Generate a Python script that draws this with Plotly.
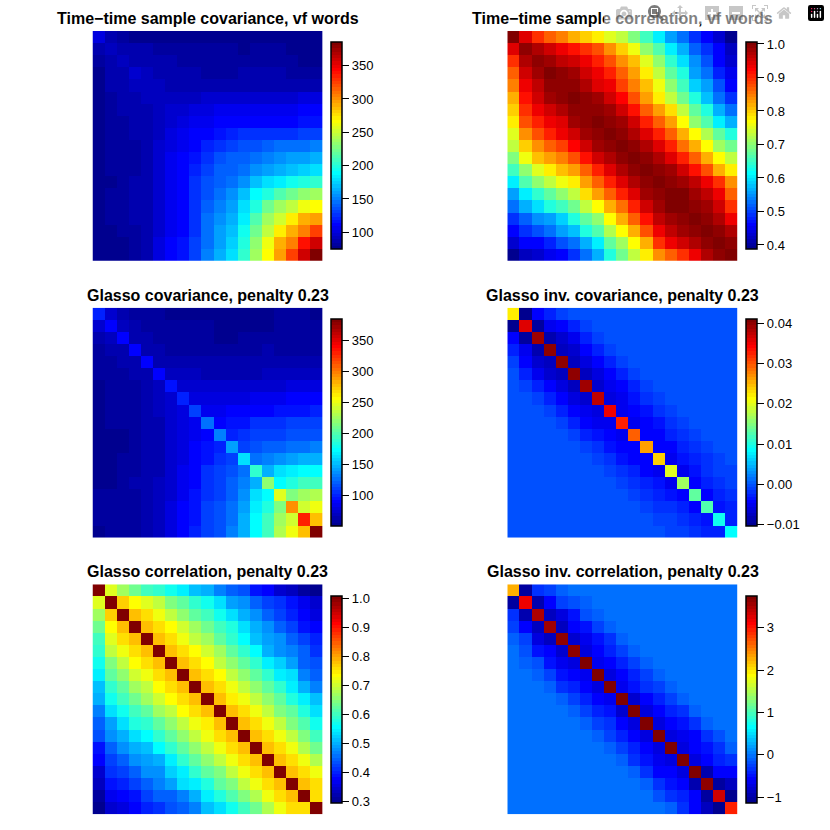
import numpy as np
import plotly.graph_objects as go

titles = ["Time\u2212time sample covariance, vf words", "Time\u2212time sample correlation, vf words",
          "Glasso covariance, penalty 0.23", "Glasso inv. covariance, penalty 0.23",
          "Glasso correlation, penalty 0.23", "Glasso inv. correlation, penalty 0.23"]

sample_cov = [
 [101,88,84,79,79,78,78,78,78,78,78,78,78,78,78,78,78,78,78],
 [92,88,86,85,84,82,82,82,81,80,80,79,80,80,80,78,79,78],
 [92,88,86,85,85,83,83,80,80,82,84,84,82,80,80,79,78],
 [94,90,88,86,85,85,84,84,84,85,85,85,85,84,81,80],
 [92,90,88,88,87,87,87,87,88,88,88,88,87,85,85],
 [92,92,92,93,95,96,96,96,97,98,98,98,100,100],
 [95,98,100,103,104,105,106,107,108,108,108,110,110],
 [102,104,108,110,112,113,112,112,113,113,115,116],
 [111,111,116,121,126,126,126,126,126,130,130],
 [121,126,130,135,135,140,145,145,145,150],
 [135,140,140,145,150,155,159,159,164],
 [140,145,155,159,164,169,174,179],
 [155,169,179,184,193,198,203],
 [189,198,213,222,232,237],
 [222,237,247,261,266],
 [252,271,290,295],
 [290,305,324],
 [339,358],
 [382],
]
sample_cor = [
 [1.0,.942,.895,.865,.846,.816,.798,.778,.75,.73,.691,.653,.604,.556,.527,.488,.46,.43,.392],
 [.99,.97,.955,.93,.915,.89,.87,.84,.80,.755,.70,.66,.605,.57,.52,.49,.46,.425],
 [.995,.985,.965,.95,.935,.90,.875,.84,.805,.745,.70,.645,.595,.545,.505,.46,.43],
 [1.0,.99,.98,.95,.93,.905,.865,.825,.78,.73,.67,.63,.555,.525,.48,.445],
 [.995,.99,.975,.945,.93,.885,.845,.805,.76,.70,.655,.585,.555,.51,.46],
 [1.0,.99,.98,.95,.923,.875,.825,.78,.73,.68,.63,.575,.53,.49],
 [.995,.99,.98,.95,.915,.865,.825,.785,.73,.67,.63,.57,.53],
 [1.0,.99,.98,.95,.905,.865,.825,.77,.70,.66,.605,.57],
 [1.0,.99,.97,.94,.905,.865,.815,.77,.72,.67,.63],
 [1.0,.99,.97,.94,.905,.855,.815,.77,.71,.68],
 [1.0,.995,.97,.94,.905,.865,.815,.77,.73],
 [1.0,.99,.98,.95,.915,.875,.815,.78],
 [1.0,.99,.98,.96,.93,.895,.835],
 [1.0,1.0,.98,.96,.93,.865],
 [1.0,.99,.98,.95,.895],
 [1.0,.99,.97,.93],
 [1.0,.99,.97],
 [1.0,.995],
 [1.0],
]
glasso_cov = [
 [100,74,65,58,58,57,55,54,54,54,54,53,53,54,54,56,56,56,54],
 [90,68,62,60,58,57,56,56,56,55,55,54,55,55,56,58,58,57],
 [90,65,62,60,58,58,57,57,54,54,57,58,58,58,58,58,58],
 [90,66,63,60,60,60,60,59,58,58,60,62,60,60,60,60],
 [90,66,64,63,63,63,63,63,63,63,63,63,65,65,65],
 [92,69,67,67,66,65,66,66,66,68,68,68,70,70],
 [95,72,72,72,72,72,74,74,74,76,78,79,80],
 [100,78,78,80,80,80,82,82,85,90,90,90],
 [111,84,84,88,90,90,90,95,95,95,100],
 [126,90,95,97,105,105,105,110,110,108],
 [131,100,105,111,111,111,116,116,116],
 [142,111,116,121,121,126,126,131],
 [163,126,131,137,142,147,147],
 [189,147,163,168,173,173],
 [220,173,184,194,194],
 [247,215,226,231],
 [294,241,252],
 [330,278],
 [382],
]
glasso_inv_cov = [
 [.022,-.010,-.0044,-.003,-.0012,0,0,0,0,0,0,0,0,0,0,0,0,0,0],
 [.036,-.0092,-.005,-.0044,-.003,-.0012,0,0,0,0,0,0,0,0,0,0,0,0],
 [.039,-.0085,-.0068,-.0048,-.003,-.0012,0,0,0,0,0,0,0,0,0,0,0],
 [.040,-.0075,-.0068,-.0044,-.003,-.0012,0,0,0,0,0,0,0,0,0,0],
 [.040,-.0075,-.006,-.0044,-.003,-.0012,0,0,0,0,0,0,0,0,0],
 [.040,-.0075,-.006,-.0044,-.003,-.0012,0,0,0,0,0,0,0,0],
 [.039,-.0068,-.0052,-.0044,-.003,-.0012,0,0,0,0,0,0,0],
 [.0375,-.006,-.0052,-.0036,-.002,-.0012,0,0,0,0,0,0],
 [.035,-.0052,-.0044,-.0036,-.002,-.0012,0,0,0,0,0],
 [.033,-.005,-.0044,-.0036,-.002,-.0012,0,0,0,0],
 [.0295,-.0044,-.0044,-.003,-.002,-.0012,0,0,0],
 [.026,-.0044,-.0044,-.003,-.002,-.0012,-.0006,0],
 [.0235,-.005,-.0036,-.003,-.002,-.0012,-.0006],
 [.020,-.005,-.0036,-.002,-.0012,-.0008],
 [.0165,-.0044,-.003,-.002,-.0012],
 [.0135,-.0044,-.003,-.002],
 [.0125,-.0036,-.003],
 [.0095,-.003],
 [.0085],
]
glasso_cor = [
 [1.0,.715,.668,.635,.60,.59,.57,.545,.51,.50,.467,.445,.434,.39,.378,.345,.333,.31,.30],
 [1.0,.768,.735,.712,.69,.646,.625,.59,.567,.535,.49,.478,.445,.42,.41,.39,.367,.345],
 [1.0,.78,.757,.725,.69,.66,.625,.60,.57,.535,.50,.478,.445,.42,.40,.378,.356],
 [1.0,.78,.757,.735,.70,.67,.635,.60,.575,.535,.50,.478,.445,.42,.39,.378],
 [1.0,.78,.755,.72,.69,.665,.625,.59,.556,.51,.49,.478,.445,.42,.40],
 [1.0,.78,.755,.73,.70,.665,.625,.59,.556,.505,.48,.47,.44,.41],
 [1.0,.78,.755,.73,.69,.66,.62,.585,.55,.52,.49,.445,.43],
 [1.0,.78,.755,.735,.695,.66,.625,.585,.55,.53,.47,.445],
 [1.0,.78,.755,.72,.69,.655,.62,.585,.55,.50,.467],
 [1.0,.78,.75,.72,.69,.66,.62,.58,.54,.51],
 [1.0,.78,.755,.72,.69,.65,.62,.575,.535],
 [1.0,.78,.755,.72,.69,.65,.61,.565],
 [1.0,.78,.755,.72,.69,.645,.60],
 [1.0,.78,.755,.72,.68,.635],
 [1.0,.78,.755,.72,.675],
 [1.0,.78,.755,.725],
 [1.0,.78,.755],
 [1.0,.76],
 [1.0],
]
glasso_inv_cor = [
 [2.27,-1.0,-.33,-.25,-.1,0,0,0,0,0,0,0,0,0,0,0,0,0,0],
 [3.15,-.95,-.56,-.25,-.18,-.1,0,0,0,0,0,0,0,0,0,0,0,0],
 [3.5,-.85,-.7,-.485,-.18,-.1,0,0,0,0,0,0,0,0,0,0,0],
 [3.6,-.85,-.56,-.485,-.25,-.1,0,0,0,0,0,0,0,0,0,0],
 [3.65,-.8,-.6,-.485,-.33,-.1,0,0,0,0,0,0,0,0,0],
 [3.65,-.7,-.56,-.41,-.25,-.1,0,0,0,0,0,0,0,0],
 [3.7,-.6,-.56,-.41,-.25,-.1,0,0,0,0,0,0,0],
 [3.7,-.7,-.56,-.41,-.25,-.1,0,0,0,0,0,0],
 [3.7,-.6,-.485,-.33,-.25,-.1,0,0,0,0,0],
 [3.7,-.8,-.56,-.41,-.25,-.1,0,0,0,0],
 [3.7,-.7,-.56,-.41,-.33,-.1,0,0,0],
 [3.7,-.7,-.56,-.485,-.33,-.1,0,0],
 [3.7,-.7,-.6,-.56,-.33,-.18,0],
 [3.7,-.7,-.56,-.485,-.33,-.1],
 [3.7,-.7,-.56,-.41,-.33],
 [3.7,-.95,-.56,-.56],
 [3.65,-1.0,-.85],
 [3.35,-1.1],
 [2.95],
]
matrices = [sample_cov, sample_cor, glasso_cov, glasso_inv_cov, glasso_cor, glasso_inv_cor]
z_ranges = [(74.5,385),(.387,1.005),(50.4,385),(-.0104,.0411),(.2943,1.008),(-1.134,3.756)]
tick_vals = [[100,150,200,250,300,350],[.4,.5,.6,.7,.8,.9,1.0],[100,150,200,250,300,350],
             [-.01,0,.01,.02,.03,.04],[.3,.4,.5,.6,.7,.8,.9,1.0],[-1,0,1,2,3]]
tick_text = [["100","150","200","250","300","350"],["0.4","0.5","0.6","0.7","0.8","0.9","1.0"],
             ["100","150","200","250","300","350"],["\u22120.01","0.00","0.01","0.02","0.03","0.04"],
             ["0.3","0.4","0.5","0.6","0.7","0.8","0.9","1.0"],["\u22121","0","1","2","3"]]

def hexc(r,g,b): return f"#{r:02X}{g:02X}{b:02X}"
pal = [hexc(0,0,v) for v in range(0x8F,0x100,0x10)]
pal += [hexc(0,v,255) for v in list(range(0x10,0x100,0x10))+[0xFF]]
pal += [hexc(v,255,255-v) for v in list(range(0x10,0x100,0x10))+[0xFF]]
pal += [hexc(255,v,0) for v in list(range(0xEF,0,-0x10))[:15]+[0]]
pal += [hexc(v,0,0) for v in [0xEF,0xDF,0xCF,0xBF,0xAF,0x9F,0x8F,0x80]]
n = len(pal)
cs = []
for i,c in enumerate(pal):
    cs += [[i/n,c],[(i+1)/n,c]]

W = 830.0
col_x = [(92.5,322.7),(507.3,737.7)]
cb_x = [331.0,746.0]
row_y = [(31,260.7),(307.7,537.7),(584.3,814.3)]
cb_y = [(42.3,249.3),(319,526),(595.7,802.7)]
title_y = [18,295,571]

fig = go.Figure()
anns = []
for k,(tri,zr) in enumerate(zip(matrices,z_ranges)):
    r,c = divmod(k,2)
    N = len(tri)
    Z = np.zeros((N,N))
    for i,row in enumerate(tri):
        Z[i,i:] = row
        Z[i:,i] = row
    ax = "" if k==0 else str(k+1)
    fig.add_trace(go.Heatmap(z=Z, zmin=zr[0], zmax=zr[1], colorscale=cs, zsmooth=False, hoverinfo="skip",
        xaxis="x"+ax, yaxis="y"+ax,
        colorbar=dict(x=cb_x[c]/W, xanchor="left", xpad=0, ypad=0,
            y=1-cb_y[r][0]/W, yanchor="top", len=cb_y[r][1]-cb_y[r][0], lenmode="pixels",
            thickness=11.3, thicknessmode="pixels", outlinecolor="#000", outlinewidth=1.5, borderwidth=0,
            tickmode="array", tickvals=tick_vals[k], ticktext=tick_text[k], ticks="outside", ticklen=7,
            tickwidth=1, tickcolor="#000", tickfont=dict(family="Liberation Sans",size=13,color="#000"))))
    fig.update_layout({
        "xaxis"+ax: dict(domain=[col_x[c][0]/W,col_x[c][1]/W], visible=False, range=[-.5,N-.5], anchor="y"+ax),
        "yaxis"+ax: dict(domain=[1-row_y[r][1]/W,1-row_y[r][0]/W], visible=False, range=[N-.5,-.5], anchor="x"+ax),
    })
    anns.append(dict(text=f"<b>{titles[k]}</b>", x=sum(col_x[c])/2/W, y=1-title_y[r]/W, xref="paper", yref="paper",
        showarrow=False, xanchor="center", yanchor="middle", font=dict(family="Liberation Sans",size=16,color="#000")))
fig.update_layout(width=830,height=830,margin=dict(l=0,r=0,t=0,b=0),paper_bgcolor="white",plot_bgcolor="white",annotations=anns)
fig.write_html("out.html", post_script="document.body.style.margin='0';document.documentElement.style.overflow='hidden';")
